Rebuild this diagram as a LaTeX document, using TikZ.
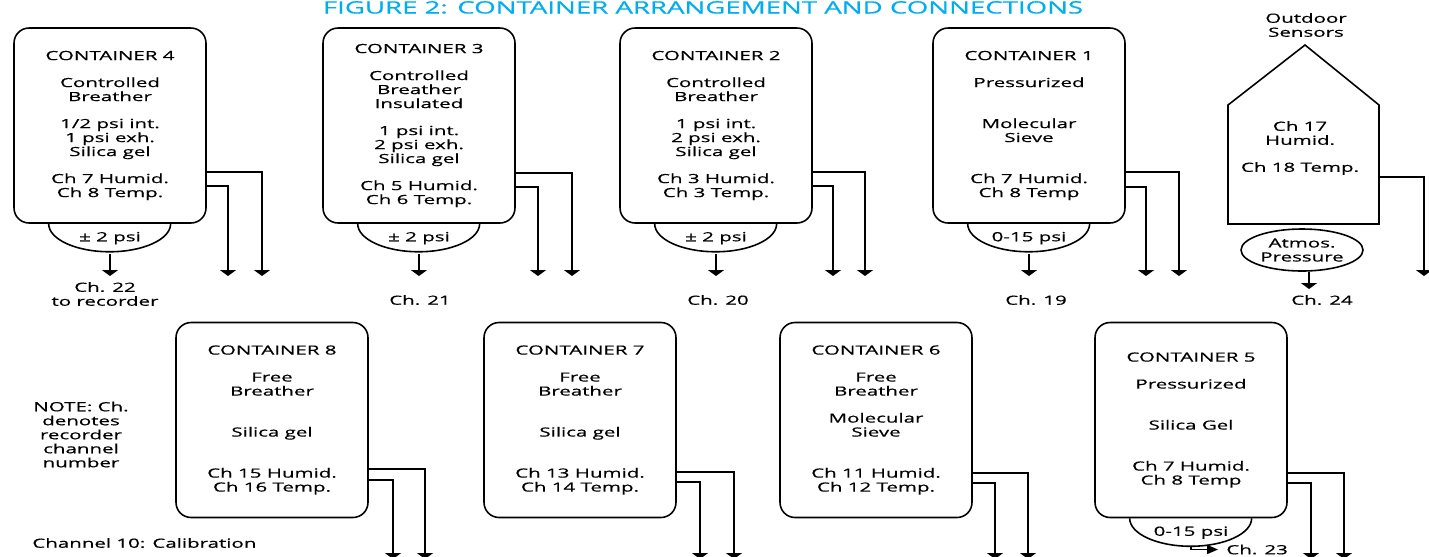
\documentclass[tikz,border=0pt]{standalone}
\usepackage{fontspec}
\setmainfont{Open Sans}[FakeStretch=1.62, FakeBold=0.6]
\usepackage{tikz}
\usetikzlibrary{arrows.meta,positioning,shapes.geometric}
\definecolor{CATitle}{HTML}{00AEEF}
\tikzset{
  caBox/.style={
    rectangle, rounded corners=0.3cm, draw=black, line width=0.9pt,
    align=center, text=black, minimum width=3.84cm, minimum height=3.9cm,
    inner sep=0pt, font=\fontsize{7.2}{7.97}\selectfont
  },
  caGauge/.style={
    rectangle, minimum width=2.44cm, minimum height=0.56cm,
    inner sep=0pt, font=\fontsize{7.2}{7.97}\selectfont
  },
  caText/.style={align=center, inner sep=0pt, font=\fontsize{7.2}{7.97}\selectfont},
  caLine/.style={draw=black, line width=0.9pt},
  caWire/.style={-{Triangle[width=0.32cm, length=0.12cm]}, draw=black, line width=0.9pt},
  caSide/.style={-{Triangle[width=0.18cm, length=0.22cm]}, draw=black, line width=0.9pt}
}

\begin{document}
\begin{tikzpicture}[x=0.02cm, y=-0.02cm]
  \useasboundingbox (0,0) rectangle (1429,556);

  % title
  \node[caText, anchor=base, text=CATitle, font=\fontsize{9.7}{10}\selectfont] (title) at (703,13.5)
    {FIGURE 2: CONTAINER ARRANGEMENT AND CONNECTIONS};

  % upper row
  \node[caBox] (c4) at (110,125.5) {CONTAINER 4\\[0.26cm]Controlled\\Breather\\[0.26cm]1/2 psi int.\\1 psi exh.\\Silica gel\\[0.26cm]Ch 7 Humid.\\Ch 8 Temp.};
  \node[caBox] (c3) at (419,125.5) {CONTAINER 3\\[0.26cm]Controlled\\Breather\\Insulated\\[0.26cm]1 psi int.\\2 psi exh.\\Silica gel\\[0.26cm]Ch 5 Humid.\\Ch 6 Temp.};
  \node[caBox] (c2) at (716,125.5) {CONTAINER 2\\[0.26cm]Controlled\\Breather\\[0.26cm]1 psi int.\\2 psi exh.\\Silica gel\\[0.26cm]Ch 3 Humid.\\Ch 3 Temp.};
  \node[caBox] (c1) at (1029,125.5) {CONTAINER 1\\[0.26cm]Pressurized\\[0.54cm]Molecular\\Sieve\\[0.54cm]Ch 7 Humid.\\Ch 8 Temp};

  % lower row
  \node[caBox] (c8) at (272,420) {CONTAINER 8\\[0.26cm]Free\\Breather\\[0.54cm]Silica gel\\[0.54cm]Ch 15 Humid.\\Ch 16 Temp.};
  \node[caBox] (c7) at (580,420) {CONTAINER 7\\[0.26cm]Free\\Breather\\[0.54cm]Silica gel\\[0.54cm]Ch 13 Humid.\\Ch 14 Temp.};
  \node[caBox] (c6) at (876,420) {CONTAINER 6\\[0.26cm]Free\\Breather\\[0.26cm]Molecular\\Sieve\\[0.54cm]Ch 11 Humid.\\Ch 12 Temp.};
  \node[caBox] (c5) at (1191,420) {CONTAINER 5\\[0.26cm]Pressurized\\[0.54cm]Silica Gel\\[0.54cm]Ch 7 Humid.\\Ch 8 Temp};

  % pressure gauges under the boxes
  \node[caGauge, below=0pt of c4] (g4) {± 2 psi};
  \node[caGauge, below=0pt of c3] (g3) {± 2 psi};
  \node[caGauge, below=0pt of c2] (g2) {± 2 psi};
  \node[caGauge, below=0pt of c1] (g1) {0-15 psi};
  \node[caGauge, below=0pt of c5] (g5) {0-15 psi};
  \draw[caLine] (g4.north west) arc[start angle=180, end angle=360, x radius=1.22cm, y radius=0.56cm];
  \draw[caLine] (g3.north west) arc[start angle=180, end angle=360, x radius=1.22cm, y radius=0.56cm];
  \draw[caLine] (g2.north west) arc[start angle=180, end angle=360, x radius=1.22cm, y radius=0.56cm];
  \draw[caLine] (g1.north west) arc[start angle=180, end angle=360, x radius=1.22cm, y radius=0.56cm];
  \draw[caLine] (g5.north west) arc[start angle=180, end angle=360, x radius=1.22cm, y radius=0.56cm];

  % outdoor sensors
  \node[caText] (outdoor) at (1306,25) {Outdoor\\Sensors};
  \coordinate (hsw) at (1228,224);
  \coordinate (hnw) at (1228,105);
  \coordinate (hroof) at (1305,45);
  \coordinate (hne) at (1379,105);
  \coordinate (hse) at (1379,224);
  \draw[caLine] (hsw) -- (hnw) -- (hroof) -- (hne) -- (hse) -- cycle;
  \node[caText] (house) at (1300,148) {Ch 17\\Humid.\\[0.26cm]Ch 18 Temp.};
  \coordinate (hout) at (1379,177);
  \node[ellipse, draw=black, line width=0.9pt, minimum width=2.44cm, minimum height=0.84cm, caText] (atm) at (1302,250) {Atmos.\\Pressure};

  % channel labels
  \node[caText] (l22) at (105,294) {Ch. 22\\to recorder};
  \node[caText] (l21) at (420,300) {Ch. 21};
  \node[caText] (l20) at (718,300) {Ch. 20};
  \node[caText] (l19) at (1036,300) {Ch. 19};
  \node[caText] (l24) at (1322,300) {Ch. 24};
  \node[caText, anchor=west] (l23) at (1226,549.5) {Ch. 23};
  \node[caText] (note) at (81,434.5) {NOTE: Ch.\\denotes\\recorder\\channel\\number};
  \node[caText, anchor=west] (calib) at (32,543) {Channel 10: Calibration};

  % wire ends
  \coordinate (t4g) at (110,276);
  \coordinate (t4a) at (262,276);
  \coordinate (t4b) at (228,276);
  \coordinate (t3g) at (419,276);
  \coordinate (t3a) at (572,276);
  \coordinate (t3b) at (538,276);
  \coordinate (t2g) at (716,276);
  \coordinate (t2a) at (865,276);
  \coordinate (t2b) at (833,276);
  \coordinate (t1g) at (1029,276);
  \coordinate (t1a) at (1179,276);
  \coordinate (t1b) at (1146,276);
  \coordinate (t0a) at (1424,276);
  \coordinate (t24) at (1309,289);
  \coordinate (t8a) at (425,559);
  \coordinate (t8b) at (393,559);
  \coordinate (t7a) at (734,559);
  \coordinate (t7b) at (700,559);
  \coordinate (t6a) at (1028,559);
  \coordinate (t6b) at (995,559);
  \coordinate (t5a) at (1344,559);
  \coordinate (t5b) at (1311,559);

  \draw[caWire] ([yshift=-0.04cm]g4.south) -- (t4g);
  \draw[caWire] ([yshift=-0.04cm]g3.south) -- (t3g);
  \draw[caWire] ([yshift=-0.04cm]g2.south) -- (t2g);
  \draw[caWire] ([yshift=-0.04cm]g1.south) -- (t1g);
  \draw[caWire] ([xshift=0.14cm]atm.south) -- (t24);
  \draw[caSide, shorten >=0.16cm] (g5.south) |- (l23.west);

  \draw[caWire] ([yshift=-0.93cm]c4.east) -| (t4a);
  \draw[caWire] ([yshift=-1.21cm]c4.east) -| (t4b);
  \draw[caWire] ([yshift=-0.95cm]c3.east) -| (t3a);
  \draw[caWire] ([yshift=-1.23cm]c3.east) -| (t3b);
  \draw[caWire] ([yshift=-0.93cm]c2.east) -| (t2a);
  \draw[caWire] ([yshift=-1.21cm]c2.east) -| (t2b);
  \draw[caWire] ([yshift=-0.93cm]c1.east) -| (t1a);
  \draw[caWire] ([yshift=-1.23cm]c1.east) -| (t1b);
  \draw[caWire] (hout) -| (t0a);

  \draw[caWire] ([yshift=-0.98cm]c8.east) -| (t8a);
  \draw[caWire] ([yshift=-1.2cm]c8.east) -| (t8b);
  \draw[caWire] ([yshift=-1.04cm]c7.east) -| (t7a);
  \draw[caWire] ([yshift=-1.24cm]c7.east) -| (t7b);
  \draw[caWire] ([yshift=-1.06cm]c6.east) -| (t6a);
  \draw[caWire] ([yshift=-1.26cm]c6.east) -| (t6b);
  \draw[caWire] ([yshift=-1.06cm]c5.east) -| (t5a);
  \draw[caWire] ([yshift=-1.26cm]c5.east) -| (t5b);
\end{tikzpicture}
\end{document}
